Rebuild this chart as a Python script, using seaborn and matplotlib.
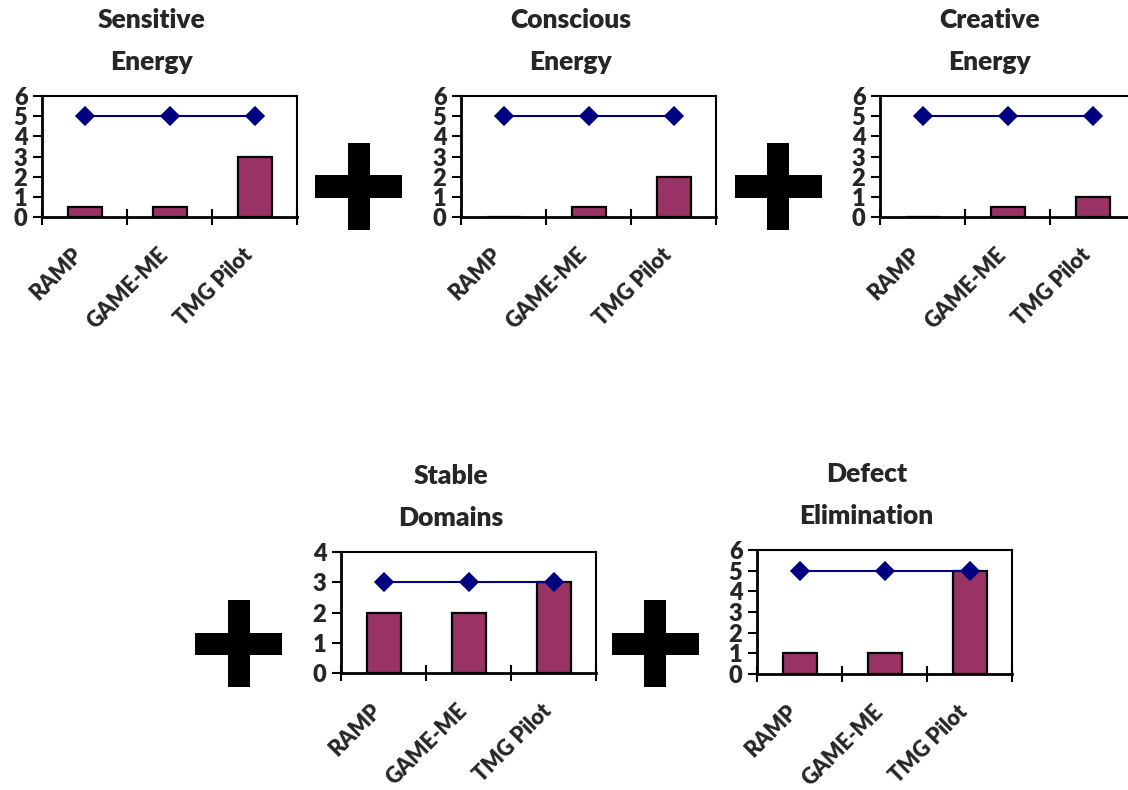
import matplotlib.pyplot as plt
import seaborn as sns
from matplotlib.patches import Rectangle

sns.set_theme(style='white')
plt.rcParams['font.family'] = ['Lato', 'DejaVu Sans']
plt.rcParams['font.weight'] = 'heavy'

# data
categories = ['RAMP', 'GAME-ME', 'TMG Pilot']
titles = ['Sensitive\nEnergy', 'Conscious\nEnergy', 'Creative\nEnergy',
          'Stable\nDomains', 'Defect\nElimination']
sensitive_bars = [0.5, 0.5, 3]
conscious_bars = [0, 0.5, 2]
creative_bars = [0, 0.5, 1]
stable_bars = [2, 2, 3]
defect_bars = [1, 1, 5]
sensitive_line = [5, 5, 5]
conscious_line = [5, 5, 5]
creative_line = [5, 5, 5]
stable_line = [3, 3, 3]
defect_line = [5, 5, 5]
y_max = [6, 6, 6, 4, 6]

bars_all = [sensitive_bars, conscious_bars, creative_bars, stable_bars, defect_bars]
lines_all = [sensitive_line, conscious_line, creative_line, stable_line, defect_line]

BAR_COLOR = '#993366'
LINE_COLOR = '#000080'

W, H = 1128, 790
fig = plt.figure(figsize=(W / 100, H / 100), dpi=100)
fig.patch.set_facecolor('white')

# panel boxes in pixels: left, top, bottom
boxes = [(42, 96, 217), (461, 96, 217), (880, 96, 217), (341, 552, 673), (757, 550, 674)]
pw = 255

for i, (l, t, b) in enumerate(boxes):
    ax = fig.add_axes([l / W, 1 - b / H, pw / W, (b - t) / H])
    ax.set_facecolor('white')
    sns.barplot(x=categories, y=bars_all[i], ax=ax, color=BAR_COLOR, saturation=1,
                edgecolor='black', linewidth=1.6, width=0.4, zorder=2)
    sns.pointplot(x=categories, y=lines_all[i], ax=ax, color=LINE_COLOR,
                  marker='D', markersize=9, linewidth=1.5, errorbar=None, zorder=3)
    ax.set_xlim(-0.5, 2.5)
    ax.set_ylim(0, y_max[i])
    ax.set_yticks(range(0, y_max[i] + 1))
    ax.set_yticklabels([str(v) for v in range(0, y_max[i] + 1)],
                       fontsize=17, fontweight='heavy')
    ax.set_xticks([-0.5, 0.5, 1.5, 2.5])
    ax.set_xticklabels([])
    ax.set_xticks([-0.06, 0.94, 1.94], minor=True)
    ax.set_xticklabels(categories, minor=True, rotation=45, ha='right', va='center',
                       rotation_mode='anchor', fontsize=15.5, fontweight='heavy')
    ax.tick_params(axis='x', which='major', direction='inout', length=12, width=1.5,
                   color='black', bottom=True)
    ax.tick_params(axis='x', which='minor', length=0, pad=25, bottom=True)
    ax.tick_params(axis='y', direction='out', length=6.5, width=1.5, pad=4,
                   color='black', left=True)
    ax.set_xlabel('')
    ax.set_ylabel('')
    ax.grid(False)
    for s in ax.spines.values():
        s.set_visible(True)
        s.set_color('black')
        s.set_linewidth(1.5)
    ax.spines['bottom'].set_linewidth(2)
    ax.spines['left'].set_linewidth(2)

    fig.text((l + pw / 2 - 18) / W, 1 - (t - 55) / H, titles[i], ha='center',
             va='center', fontsize=19, fontweight='heavy', linespacing=1.95)

# plus signs between panels
plus_centers = [(358.5, 186.5), (778, 186.5), (238.5, 643.5), (655, 643.5)]
size, thick = 87, 22
for cx, cy in plus_centers:
    fig.patches.append(Rectangle(((cx - size / 2) / W, 1 - (cy + thick / 2) / H),
                                 size / W, thick / H, transform=fig.transFigure,
                                 facecolor='black', edgecolor='none'))
    fig.patches.append(Rectangle(((cx - thick / 2) / W, 1 - (cy + size / 2) / H),
                                 thick / W, size / H, transform=fig.transFigure,
                                 facecolor='black', edgecolor='none'))

fig.savefig('out.png', dpi=100, facecolor='white')
